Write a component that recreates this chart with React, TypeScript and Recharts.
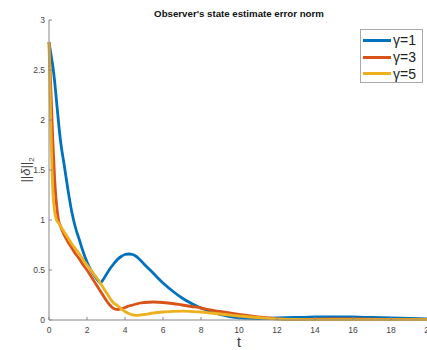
import React from 'react';
import { LineChart, Line, XAxis, YAxis } from 'recharts';

const tValues = [
  0, 0.1, 0.2, 0.3, 0.4, 0.5, 0.6, 0.8, 1.0, 1.2, 1.4, 1.6, 1.8, 2.0, 2.2, 2.4, 2.6, 2.7, 2.8, 3.0,
  3.2, 3.4, 3.6, 3.8, 4.0, 4.2, 4.4, 4.6, 4.8, 5.0, 5.5, 6.0, 6.5, 7.0, 7.5, 8.0, 8.5, 9.0, 9.5, 10,
  11, 12, 13, 14, 15, 16, 17, 18, 19, 20,
];

const gamma1 = [
  2.78, 2.66, 2.54, 2.38, 2.18, 1.98, 1.8, 1.55, 1.3, 1.08, 0.92, 0.8, 0.68, 0.58, 0.5, 0.44, 0.39, 0.37, 0.39, 0.45,
  0.51, 0.56, 0.605, 0.635, 0.655, 0.66, 0.655, 0.635, 0.6, 0.56, 0.465, 0.37, 0.29, 0.22, 0.165, 0.12, 0.085, 0.055, 0.035, 0.022,
  0.015, 0.02, 0.025, 0.03, 0.032, 0.03, 0.025, 0.02, 0.015, 0.01,
];

const gamma3 = [
  2.78, 2.3, 1.8, 1.4, 1.15, 1.0, 0.94, 0.85, 0.78, 0.72, 0.66, 0.61, 0.55, 0.5, 0.44, 0.38, 0.32, 0.29, 0.26, 0.2,
  0.15, 0.115, 0.105, 0.112, 0.125, 0.14, 0.15, 0.16, 0.17, 0.175, 0.18, 0.175, 0.165, 0.15, 0.135, 0.12, 0.1, 0.085, 0.07, 0.055,
  0.03, 0.012, 0.005, 0.008, 0.01, 0.01, 0.008, 0.006, 0.005, 0.004,
];

const gamma5 = [
  2.78, 1.9, 1.3, 1.08, 1.0, 0.97, 0.94, 0.88, 0.82, 0.76, 0.71, 0.66, 0.6, 0.55, 0.5, 0.45, 0.4, 0.37, 0.34, 0.28,
  0.22, 0.17, 0.145, 0.112, 0.085, 0.065, 0.052, 0.047, 0.05, 0.055, 0.07, 0.08, 0.087, 0.088, 0.085, 0.08, 0.07, 0.06, 0.05, 0.04,
  0.025, 0.012, 0.006, 0.004, 0.004, 0.004, 0.004, 0.004, 0.003, 0.003,
];

const xTicks = [0, 2, 4, 6, 8, 10, 12, 14, 16, 18, 20];
const yTicks = [0, 0.5, 1, 1.5, 2, 2.5, 3];

const seriesNames = ['γ=1', 'γ=3', 'γ=5'];
const seriesColors = ['#0072BD', '#D95319', '#EDB120'];

const data = tValues.map((t, i) => ({ t, g1: gamma1[i], g3: gamma3[i], g5: gamma5[i] }));

const font = '"Liberation Sans", Arial, sans-serif';

const LegendBox = () => (
  <div
    style={{
      position: 'absolute',
      left: 360,
      top: 29,
      border: '1px solid #aaa',
      background: '#fff',
      width: 63,
      height: 54,
      boxSizing: 'border-box',
      paddingTop: 2,
      fontFamily: font,
      fontSize: 14,
      color: '#222',
    }}
  >
    {seriesNames.map((name, i) => (
      <div key={name} style={{ display: 'flex', alignItems: 'center', height: 16.7 }}>
        <span style={{ display: 'inline-block', width: 28, height: 3, marginLeft: 2, background: seriesColors[i] }} />
        <span style={{ marginLeft: 2 }}>{name}</span>
      </div>
    ))}
  </div>
);

export default function App() {
  return (
    <div style={{ position: 'absolute', left: 0, top: 0, width: 427, height: 350, overflow: 'hidden', background: '#fff' }}>
      <LineChart width={440} height={350} data={data} margin={{ top: 20, right: 11, bottom: 0, left: 9 }}>
        <XAxis
          dataKey="t"
          type="number"
          domain={[0, 20]}
          ticks={xTicks}
          height={30}
          tickSize={-3}
          tickMargin={10}
          stroke="#888"
          tick={{ fill: '#444', fontSize: 8.5, fontFamily: font }}
        />
        <YAxis
          type="number"
          domain={[0, 3]}
          ticks={yTicks}
          width={40}
          tickSize={-3}
          tickMargin={7}
          stroke="#888"
          tick={{ fill: '#444', fontSize: 8.5, fontFamily: font }}
        />
        <Line type="monotone" dataKey="g1" name={seriesNames[0]} stroke={seriesColors[0]} strokeWidth={2.8} dot={false} isAnimationActive={false} />
        <Line type="monotone" dataKey="g3" name={seriesNames[1]} stroke={seriesColors[1]} strokeWidth={2.8} dot={false} isAnimationActive={false} />
        <Line type="monotone" dataKey="g5" name={seriesNames[2]} stroke={seriesColors[2]} strokeWidth={2.8} dot={false} isAnimationActive={false} />
      </LineChart>
      <LegendBox />
      <div
        style={{
          position: 'absolute',
          left: 39,
          width: 400,
          top: 8,
          textAlign: 'center',
          fontFamily: font,
          fontWeight: 'bold',
          fontSize: 9.7,
          color: '#111',
        }}
      >
        Observer's state estimate error norm
      </div>
      <div
        style={{
          position: 'absolute',
          left: 39,
          width: 400,
          top: 334,
          textAlign: 'center',
          fontFamily: font,
          fontSize: 14,
          color: '#333',
        }}
      >
        t
      </div>
      <div
        style={{
          position: 'absolute',
          left: 27,
          top: 170,
          transform: 'translate(-50%, -50%) rotate(-90deg)',
          fontFamily: font,
          fontSize: 13,
          color: '#444',
          whiteSpace: 'nowrap',
        }}
      >
        ||<i>δ</i>||<sub style={{ fontSize: 8 }}>2</sub>
      </div>
    </div>
  );
}
